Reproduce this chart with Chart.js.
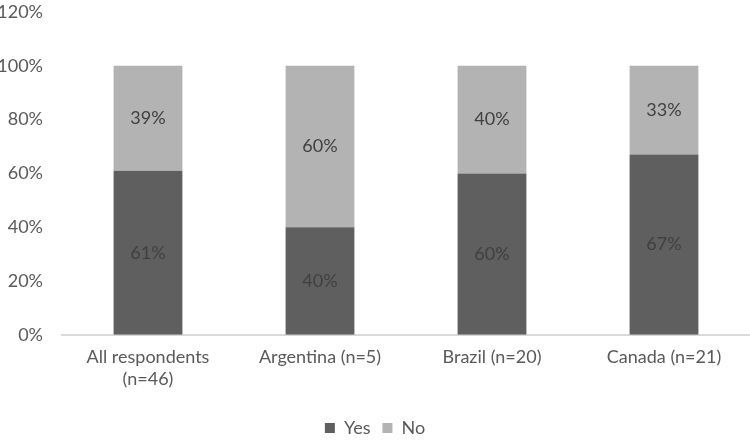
<!DOCTYPE html>
<html>
<head>
<meta charset="utf-8">
<script src="https://cdn.jsdelivr.net/npm/chart.js@4"></script>
<style>
  html, body { margin: 0; padding: 0; background: #fff; }
  #wrap { width: 750px; height: 440px; }
</style>
</head>
<body>
<div id="wrap"><canvas id="chart"></canvas></div>
<script>
const categories = [["All respondents", "(n=46)"], "Argentina (n=5)", "Brazil (n=20)", "Canada (n=21)"];
const yesValues = [61, 40, 60, 67];
const noValues = [39, 60, 40, 33];
const yTicks = [0, 20, 40, 60, 80, 100, 120];

const FONT = "Lato, 'Open Sans', sans-serif";
const SIZE = 18;

// draws the value inside each bar segment
const barLabels = {
  id: "barLabels",
  afterDatasetsDraw(chart) {
    const ctx = chart.ctx;
    ctx.save();
    ctx.font = SIZE + "px " + FONT;
    ctx.fillStyle = "#404040";
    ctx.textAlign = "center";
    ctx.textBaseline = "middle";
    chart.data.datasets.forEach((ds, i) => {
      chart.getDatasetMeta(i).data.forEach((bar, j) => {
        const p = bar.getProps(["x", "y", "base"], true);
        ctx.fillText(ds.data[j] + "%", p.x, (p.y + p.base) / 2);
      });
    });
    ctx.restore();
  }
};

new Chart(document.getElementById("chart"), {
  type: "bar",
  data: {
    labels: categories,
    datasets: [
      { label: "Yes", data: yesValues, backgroundColor: "#5f5f5f", barPercentage: 0.4, categoryPercentage: 1 },
      { label: "No", data: noValues, backgroundColor: "#b3b3b3", barPercentage: 0.4, categoryPercentage: 1 }
    ]
  },
  options: {
    responsive: true,
    maintainAspectRatio: false,
    animation: false,
    layout: { padding: { top: 0, right: 0, left: 0, bottom: -7 } },
    scales: {
      x: {
        stacked: true,
        afterFit(scale) { scale.height += 5; },
        grid: { display: false, drawTicks: false },
        border: { color: "#d9d9d9", width: 2 },
        ticks: { color: "#595959", font: { family: FONT, size: SIZE, lineHeight: 1.2 }, padding: 12, maxRotation: 0 }
      },
      y: {
        stacked: true,
        min: 0,
        max: 120,
        afterBuildTicks(scale) { scale.ticks = yTicks.map(v => ({ value: v })); },
        afterFit(scale) {
          scale.width = 62;
          scale.paddingTop = 12;
          scale.paddingBottom = 0;
        },
        grid: { display: false, drawTicks: false },
        border: { display: false },
        ticks: {
          color: "#595959",
          font: { family: FONT, size: SIZE },
          padding: 19,
          callback: v => v + "%"
        }
      }
    },
    plugins: {
      legend: {
        position: "bottom",
        labels: { boxWidth: 10, boxHeight: 10, color: "#595959", font: { family: FONT, size: SIZE }, padding: 12 }
      },
      tooltip: { enabled: false }
    }
  },
  plugins: [barLabels]
});
</script>
</body>
</html>
